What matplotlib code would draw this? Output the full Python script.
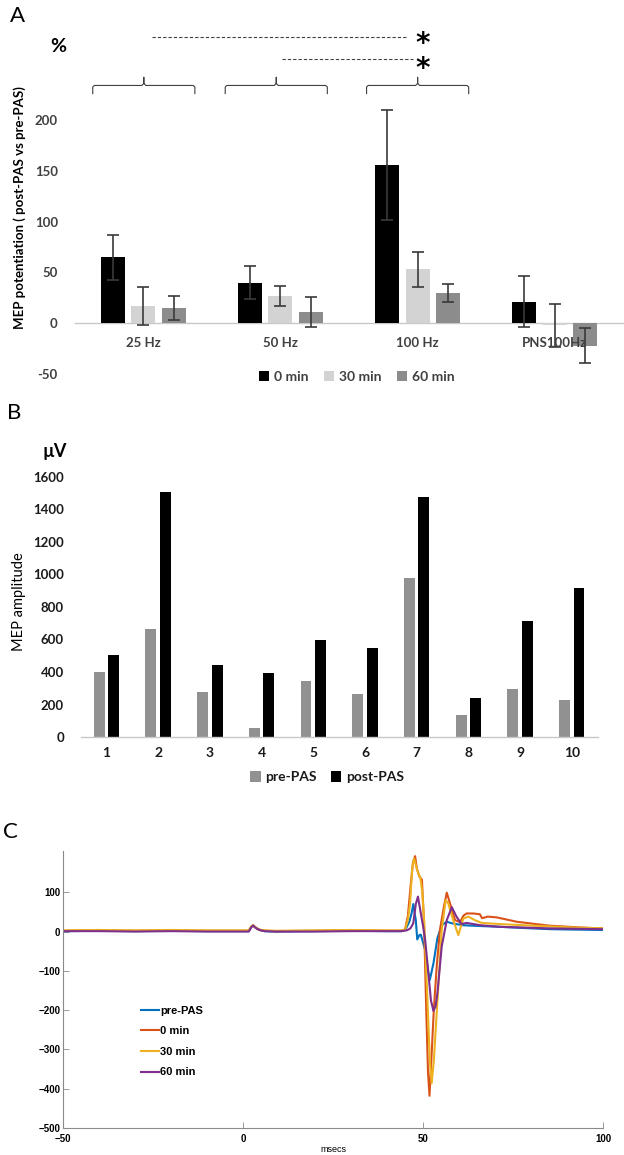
import matplotlib
matplotlib.use('Agg')
import matplotlib.pyplot as plt
from matplotlib.patches import Patch

# ---------------- Panel A data ----------------
freq_labels = ['25 Hz', '50 Hz', '100 Hz', 'PNS100Hz']
time_labels = ['0 min', '30 min', '60 min']
pot_0min = [65, 40, 156, 21]
pot_30min = [17, 27, 53, -2]
pot_60min = [15, 11, 30, -22]
err_0min = [22, 16, 54, 25]
err_30min = [19, 10, 17, 21]
err_60min = [12, 15, 9, 17]
a_yticks = [-50, 0, 50, 100, 150, 200]

# ---------------- Panel B data ----------------
subjects = ['1', '2', '3', '4', '5', '6', '7', '8', '9', '10']
pre_pas = [400, 665, 278, 57, 345, 263, 980, 138, 297, 225]
post_pas = [507, 1505, 443, 394, 594, 547, 1475, 242, 714, 914]
b_yticks = [0, 200, 400, 600, 800, 1000, 1200, 1400, 1600]

# ---------------- Panel C data (traces) ----------------
base_t = [-50, -40, -30, -20, -10, -2, 1.6, 2.3, 2.8, 3.6, 4.6, 6, 9, 20, 30, 40]
base_pre = [1, 2, 1, 2, 1, 1, 1, 12, 16, 9, 4, 1, 0, 1, 2, 1]
base_0 = [2, 3, 2, 3, 2, 2, 2, 12, 16, 9, 4, 2, 1, 2, 3, 2]
base_30 = [3, 4, 3, 4, 3, 3, 3, 13, 16, 10, 5, 3, 2, 3, 4, 3]
base_60 = [1, 1, 0, 1, 0, 0, 0, 11, 15, 9, 4, 1, 0, 0, 1, 1]

mep_t_pre = [44, 45, 45.5, 46.2, 46.8, 47.3, 48.0, 48.4, 49.0, 49.4, 50.6, 51.5, 51.9,
             52.9, 54.0, 55.2, 56.6, 58, 61.2, 66, 71.4, 78, 85.3, 92, 100]
mep_v_pre = [1, 4, 12, 25, 45, 70, 29, -20, -9, -8, -47, -106, -123,
             -81, -17, 16, 25, 21, 16, 14, 12, 9, 6, 5, 4]

mep_t_0 = [44, 45, 45.8, 46.5, 47.2, 47.8, 48.3, 49.0, 49.7, 50.3, 50.9, 51.4, 51.8,
           52.3, 53.0, 53.8, 54.7, 55.8, 56.6, 57.5, 58.9, 60.3, 61.2, 62.1, 64.0,
           65.8, 66.4, 68.0, 70.5, 76, 85, 94.5, 100]
mep_v_0 = [2, 5, 40, 110, 175, 192, 160, 140, 132, 20, -200, -360, -418,
           -330, -200, -90, 4, 63, 99, 72, 29, 24, 40, 46, 46,
           44, 34, 38, 36, 25, 15, 10, 8]

mep_t_30 = [44, 45, 45.8, 46.4, 47.0, 47.5, 48.0, 48.4, 49.3, 49.8, 50.3, 51.2, 51.9,
            52.4, 53.0, 53.8, 55.2, 56.3, 57.0, 58.4, 59.8, 61.2, 62.6, 64.4, 66.3,
            71.4, 80.6, 89.9, 100]
mep_v_30 = [3, 5, 30, 70, 160, 186, 170, 156, 135, 100, 29, -166, -330,
            -386, -330, -208, 4, 80, 72, 29, -9, 33, 38, 29, 22,
            19, 15, 11, 8]

mep_t_60 = [44, 45.5, 46.5, 47.3, 48.0, 48.6, 49.4, 50.0, 50.6, 51.5, 52.2, 52.9, 53.5,
            54.0, 55.2, 56.6, 58.0, 59.3, 60.7, 62.1, 66, 71.4, 85.3, 100]
mep_v_60 = [1, 3, 8, 21, 70, 89, 46, 15, -22, -106, -175, -202, -190,
            -157, -38, 29, 62, 38, 19, 22, 16, 12, 8, 6]

trace_labels = ['pre-PAS', '0 min', '30 min', '60 min']
c_xticks = [-50, 0, 50, 100]
c_yticks = [-500, -400, -300, -200, -100, 0, 100]

# ---------------- Figure ----------------
W, H = 624, 1155
fig = plt.figure(figsize=(W / 100, H / 100), dpi=100)
FA = 'Lato'
FC = 'Liberation Sans'


def box(x0, y0, x1, y1):
    """pixel box (top-left origin) to figure fraction rect"""
    return [x0 / W, 1 - y1 / H, (x1 - x0) / W, (y1 - y0) / H]


# ================= Panel A =================
axA = fig.add_axes(box(74.5, 120, 623.5, 374))
axA.set_axisbelow(False)
bw = 0.175
off = 0.222
xs = list(range(len(freq_labels)))
cols_A = ['#000000', '#d3d3d3', '#8c8c8c']
series = [(pot_0min, err_0min), (pot_30min, err_30min), (pot_60min, err_60min)]
for k, (vals, errs) in enumerate(series):
    pos = [x + (k - 1) * off for x in xs]
    axA.bar(pos, vals, width=bw, color=cols_A[k], zorder=2)
    eb = axA.errorbar(pos, vals, yerr=errs, fmt='none', ecolor='#3a3a3a',
                      elinewidth=1.2, capsize=4, capthick=1.2, zorder=3)
    for art in eb.get_children():
        art.set_clip_on(False)

axA.set_xlim(-0.5, 3.5)
axA.set_ylim(-50, 200)
for s in ['top', 'right', 'left']:
    axA.spines[s].set_visible(False)
axA.spines['bottom'].set_position(('data', 0))
axA.spines['bottom'].set_color('#c8c8c8')
axA.spines['bottom'].set_linewidth(1.0)
axA.spines['bottom'].set_zorder(1)
axA.xaxis.set_zorder(4)
axA.set_xticks(xs)
axA.set_xticklabels(freq_labels, fontfamily=FA, fontweight='bold', fontsize=9.5, color='#404040')
axA.tick_params(axis='x', length=0, pad=10)
axA.set_yticks(a_yticks)
axA.set_yticklabels([str(v) for v in a_yticks], fontfamily=FA, fontweight='bold',
                    fontsize=9.5, color='#404040')
axA.tick_params(axis='y', length=0, pad=12)

handlesA = [Patch(facecolor=c, edgecolor='none') for c in cols_A]
legA = axA.legend(handlesA, time_labels, loc='center', bbox_to_anchor=(0.514, -0.01),
                  ncol=3, frameon=False, handlelength=0.75, handleheight=0.75,
                  handletextpad=0.35, columnspacing=1.1, borderaxespad=0,
                  prop={'family': FA, 'weight': 'bold', 'size': 10})
for t in legA.get_texts():
    t.set_color('#404040')

# significance annotations
lc = '#404040'
axA.plot([0.066, 1.923], [282, 282], ls=(0, (3, 1.8)), lw=0.8, color=lc, clip_on=False)
axA.plot([1.012, 1.966], [260, 260], ls=(0, (3, 1.8)), lw=0.8, color=lc, clip_on=False)
axA.text(2.04, 275, '*', fontsize=20, fontweight='bold', ha='center', va='center',
         fontfamily='DejaVu Sans', clip_on=False)
axA.text(2.04, 250, '*', fontsize=20, fontweight='bold', ha='center', va='center',
         fontfamily='DejaVu Sans', clip_on=False)
for c in [0.005, 0.97, 2.0]:
    hw = 0.372
    bx = [c - hw, c - hw, c - hw + 0.012, c - 0.015, c, c, c, c + 0.015, c + hw - 0.012, c + hw, c + hw]
    by = [226, 232.5, 234, 234, 236, 242, 236, 234, 234, 232.5, 226]
    axA.plot(bx, by, lw=0.8, color=lc, clip_on=False, solid_joinstyle='round')

fig.text(18 / W, 1 - 16 / H, 'A', fontsize=16, fontfamily=FA, ha='center', va='center')
fig.text(58 / W, 1 - 47 / H, '%', fontsize=14, fontfamily=FA, fontweight='bold',
         ha='center', va='center')
fig.text(20 / W, 1 - 208 / H, 'MEP potentiation ( post-PAS vs pre-PAS)', rotation=90,
         fontsize=9.5, fontfamily=FA, fontweight='bold', ha='center', va='center')

# ================= Panel B =================
axB = fig.add_axes(box(80.6, 477, 597.6, 737))
xb = list(range(1, len(subjects) + 1))
bwB = 0.21
axB.bar([x - 0.14 for x in xb], pre_pas, width=bwB, color='#919191', zorder=2)
axB.bar([x + 0.14 for x in xb], post_pas, width=bwB, color='#000000', zorder=2)
axB.set_xlim(0.5, 10.5)
axB.set_ylim(0, 1600)
for s in ['top', 'right', 'left']:
    axB.spines[s].set_visible(False)
axB.spines['bottom'].set_color('#c8c8c8')
axB.spines['bottom'].set_linewidth(1.0)
axB.set_xticks(xb)
axB.set_xticklabels(subjects, fontfamily=FA, fontweight='bold', fontsize=10, color='#1a1a1a')
axB.tick_params(axis='x', length=0, pad=7)
axB.set_yticks(b_yticks)
axB.set_yticklabels([str(v) for v in b_yticks], fontfamily=FA, fontweight='bold',
                    fontsize=9.5, color='#1a1a1a')
axB.tick_params(axis='y', length=0, pad=12)
handlesB = [Patch(facecolor='#919191', edgecolor='none'), Patch(facecolor='#000000', edgecolor='none')]
legB = axB.legend(handlesB, ['pre-PAS', 'post-PAS'], loc='center', bbox_to_anchor=(0.477, -0.155),
                  ncol=2, frameon=False, handlelength=0.75, handleheight=0.75,
                  handletextpad=0.35, columnspacing=1.0, borderaxespad=0,
                  prop={'family': FA, 'weight': 'bold', 'size': 10})
for t in legB.get_texts():
    t.set_color('#1a1a1a')

fig.text(14 / W, 1 - 413 / H, 'B', fontsize=16, fontfamily=FA, ha='center', va='center')
fig.text(55 / W, 1 - 452 / H, 'µV', fontsize=13, fontfamily=FA, fontweight='bold',
         ha='center', va='center')
fig.text(19 / W, 1 - 602 / H, 'MEP amplitude', rotation=90, fontsize=10.5, fontfamily=FA,
         ha='center', va='center')

# ================= Panel C =================
axC = fig.add_axes(box(63, 851, 603, 1128))
colsC = ['#0072BD', '#D95319', '#EDB120', '#7E2F8E']
traces = [(base_t + mep_t_pre, base_pre + mep_v_pre),
          (base_t + mep_t_0, base_0 + mep_v_0),
          (base_t + mep_t_30, base_30 + mep_v_30),
          (base_t + mep_t_60, base_60 + mep_v_60)]
for (tt, vv), c, lab in zip(traces, colsC, trace_labels):
    axC.plot(tt, vv, color=c, lw=1.5, label=lab, solid_joinstyle='round')
axC.set_xlim(-50, 100)
axC.set_ylim(-500, 205)
for s in ['top', 'right']:
    axC.spines[s].set_visible(False)
for s in ['left', 'bottom']:
    axC.spines[s].set_color('#8a8a8a')
    axC.spines[s].set_linewidth(0.8)
axC.set_xticks(c_xticks)
axC.set_yticks(c_yticks)
axC.tick_params(direction='in', length=4, width=0.6, color='#8a8a8a', labelcolor='black',
                labelsize=7)
axC.tick_params(axis='y', pad=2)
axC.tick_params(axis='x', pad=4)
for lab in axC.get_xticklabels() + axC.get_yticklabels():
    lab.set_fontfamily(FC)
    lab.set_fontweight('bold')
legC = axC.legend(loc='center left', bbox_to_anchor=(0.137, 0.312), frameon=False,
                  handlelength=1.55, handletextpad=0.15, labelspacing=0.95, borderaxespad=0,
                  prop={'family': FC, 'weight': 'bold', 'size': 8})
fig.text(333 / W, 1 - 1150 / H, 'msecs', fontsize=6.5, fontfamily=FC, ha='center', va='center')
fig.text(10 / W, 1 - 832 / H, 'C', fontsize=16, fontfamily=FA, ha='center', va='center')

fig.savefig('out.png', dpi=100)
